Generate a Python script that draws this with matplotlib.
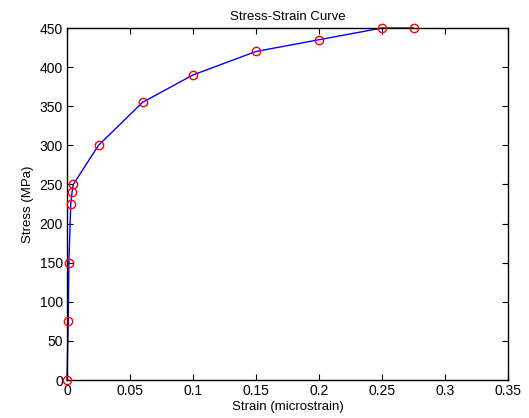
import matplotlib
matplotlib.use("Agg")
import matplotlib.pyplot as plt

strain = [0, 0.001, 0.0015, 0.003, 0.004, 0.005, 0.025, 0.06, 0.1, 0.15, 0.2, 0.25, 0.275]
stress = [0, 75, 150, 225, 240, 250, 300, 355, 390, 420, 435, 450, 450]

plt.rcParams['font.family'] = ['Liberation Sans', 'DejaVu Sans']
plt.rcParams['font.size'] = 9.5

fig = plt.figure(figsize=(5.29, 4.18), dpi=100)
ax = fig.add_axes([67/529, 38/418, 441/529, 352/418])
ax.plot(strain, stress, color='blue', lw=1, clip_on=False)
ax.plot(strain, stress, 'o', mfc='none', mec='red', ms=6, mew=1, clip_on=False, zorder=5)
ax.set_xlim(0, 0.35)
ax.set_ylim(0, 450)
ax.set_xticks([0, 0.05, 0.1, 0.15, 0.2, 0.25, 0.3, 0.35])
ax.set_xticklabels(['0', '0.05', '0.1', '0.15', '0.2', '0.25', '0.3', '0.35'])
ax.set_yticks(range(0, 451, 50))
ax.tick_params(direction='in', top=True, right=True, length=4, pad=3, labelsize=10)
ax.set_xlabel('Strain (microstrain)', labelpad=2)
ax.set_ylabel('Stress (MPa)', labelpad=4)
ax.set_title('Stress-Strain Curve', pad=6, fontsize=9.5)
for s in ax.spines.values():
    s.set_linewidth(1)
fig.savefig('out.png', dpi=100)
